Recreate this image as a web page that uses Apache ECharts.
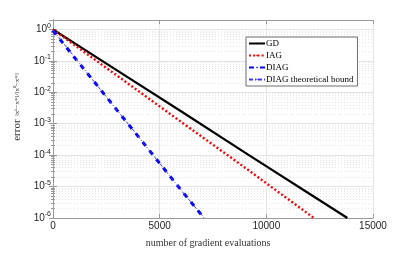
<!DOCTYPE html>
<html><head><meta charset="utf-8">
<script src="https://cdn.jsdelivr.net/npm/echarts@6/dist/echarts.min.js"></script>
<style>html,body{margin:0;padding:0;background:#fff}#c{width:411px;height:253px}</style>
</head><body><div id="c"></div>
<script>
// ---- data ----
const xTicks = [0, 5000, 10000, 15000];
const yTicks = [1e-6, 1e-5, 1e-4, 1e-3, 1e-2, 1e-1, 1];
const seriesNames = ['GD', 'IAG', 'DIAG', 'DIAG theoretical bound'];
const gdX = [0, 3000, 6000, 9000, 12000, 13800];
const gdY = [1, 5.0e-2, 2.5e-3, 1.2e-4, 6.0e-6, 1e-6];
const iagX = [0, 3000, 6000, 9000, 12230];
const iagY = [1, 3.4e-2, 1.15e-3, 4.0e-5, 1e-6];
const diagX = [0, 1000, 2000, 3000, 4000, 5000, 6000, 7080];
const diagY = [0.92, 0.13, 0.019, 2.7e-3, 3.9e-4, 5.5e-5, 7.8e-6, 1e-6];
const boundX = [0, 1000, 2000, 3000, 4000, 5000, 6000, 7080];
const boundY = [0.95, 0.135, 0.019, 2.7e-3, 3.9e-4, 5.5e-5, 7.8e-6, 1e-6];

const pair = (xs, ys) => xs.map((x, i) => [x, ys[i]]);
const chart = echarts.init(document.getElementById('c'), null, {renderer: 'canvas'});
const frame = '#9a9a9a';
const isMajor = v => yTicks.some(t => Math.abs(v - t) / t < 1e-6);
const yFmt = v => isMajor(v) ? '{b|10}{s|' + Math.round(Math.log10(v)) + '}' : '';
const yAxisBase = {
  type: 'log', logBase: 10, min: 1e-6, max: 2,
  axisLine: {show: true, lineStyle: {color: frame, width: 1}},
  axisTick: {show: true, inside: true, length: 4, lineStyle: {color: frame}},
  minorTick: {show: true, splitNumber: 9, length: 2, lineStyle: {color: frame}}
};
chart.setOption({
  animation: false,
  grid: {left: 53, right: 38, top: 20, bottom: 35, show: false},
  legend: {
    show: true, orient: 'vertical', left: 246, top: 37,
    itemWidth: 16, itemHeight: 2, itemGap: 3,
    backgroundColor: '#fff', borderColor: '#6e6e6e', borderWidth: 1,
    padding: [2, 4, 2, 2],
    textStyle: {fontFamily: 'Liberation Serif', fontSize: 9, color: '#000', padding: [0, 0, 0, -4]},
    data: seriesNames
  },
  xAxis: [{
    type: 'value', min: 0, max: 15000, interval: 5000,
    name: 'number of gradient evaluations', nameLocation: 'middle', nameGap: 20,
    nameTextStyle: {fontFamily: 'Liberation Serif', fontSize: 10, color: '#333', padding: [0, 10, 0, 0]},
    axisLine: {show: true, onZero: false, lineStyle: {color: frame}},
    axisTick: {show: true, inside: true, length: 4, lineStyle: {color: frame}},
    axisLabel: {fontFamily: 'Liberation Sans', fontSize: 10, color: '#262626', margin: 3,
                formatter: v => xTicks.includes(v) ? String(v) : ''},
    splitLine: {show: true, lineStyle: {color: '#e4e4e4', width: 1}}
  }, {
    type: 'value', position: 'top', min: 0, max: 15000, interval: 5000,
    axisLine: {show: true, onZero: false, lineStyle: {color: frame}},
    axisTick: {show: true, inside: true, length: 4, lineStyle: {color: frame}},
    axisLabel: {show: false}, splitLine: {show: false}
  }],
  yAxis: [Object.assign({}, yAxisBase, {
    position: 'left',
    name: '{e|error} {f|‖xᵏ−x*‖/‖x⁰−x*‖}', nameLocation: 'middle', nameGap: 23, nameRotate: 90,
    nameTextStyle: {color: '#333', padding: [0, 0, 0, 24], rich: {
      e: {fontFamily: 'Liberation Serif', fontSize: 11, color: '#333'},
      f: {fontFamily: 'Liberation Serif', fontSize: 7, color: '#333'}
    }},
    axisLabel: {color: '#262626', margin: 2,
                formatter: yFmt,
                rich: {
                  b: {fontFamily: 'Liberation Sans', fontSize: 10, color: '#262626'},
                  s: {fontFamily: 'Liberation Sans', fontSize: 7, color: '#262626', verticalAlign: 'bottom', padding: [0, 0, 7, 0]}
                }},
    splitLine: {show: true, lineStyle: {color: '#e4e4e4', width: 1}},
    minorSplitLine: {show: true, lineStyle: {color: '#e6e6e6', width: 1, type: [1, 2]}}
  }), Object.assign({}, yAxisBase, {
    position: 'right', axisLabel: {show: false}, splitLine: {show: false}
  })],
  series: [
    {name: seriesNames[0], type: 'line', data: pair(gdX, gdY), symbol: 'none', clip: true,
     lineStyle: {color: '#000', width: 2.2}, itemStyle: {color: '#000'}, z: 3},
    {name: seriesNames[1], type: 'line', data: pair(iagX, iagY), symbol: 'none', clip: true,
     lineStyle: {color: '#ff0000', width: 2.4, type: [2, 2.2]}, itemStyle: {color: '#ff0000'}, z: 3},
    {name: seriesNames[2], type: 'line', data: pair(diagX, diagY), symbol: 'none', clip: true,
     lineStyle: {color: '#0000ff', width: 3, type: [5, 6]}, itemStyle: {color: '#0000ff'}, z: 3},
    {name: seriesNames[3], type: 'line', data: pair(boundX, boundY), symbol: 'none', clip: true,
     lineStyle: {color: '#3b3bff', width: 1, type: [4, 2, 1, 2]}, itemStyle: {color: '#3b3bff'}, z: 4}
  ]
});
</script></body></html>
